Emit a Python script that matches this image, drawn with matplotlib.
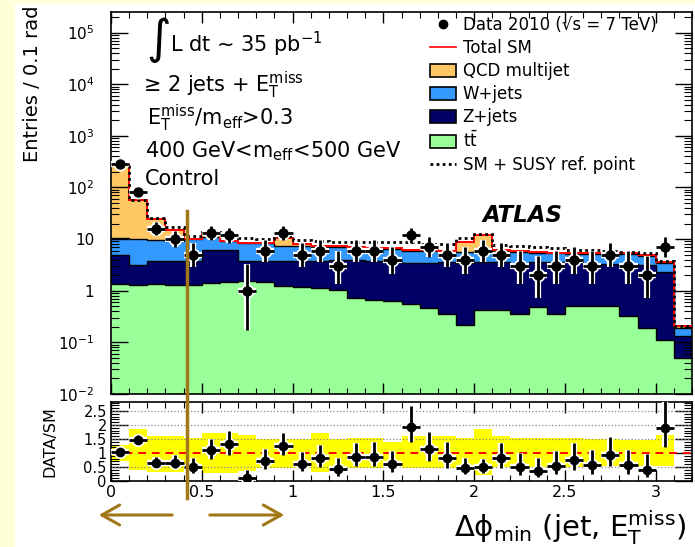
import numpy as np
import matplotlib
matplotlib.use('Agg')
import matplotlib.pyplot as plt
from matplotlib.patches import Rectangle, Patch, FancyArrowPatch
from matplotlib.lines import Line2D
from matplotlib.ticker import MultipleLocator, FixedLocator, LogLocator, NullFormatter, FormatStrFormatter

plt.rcParams['font.family'] = ['DejaVu Sans']
plt.rcParams['mathtext.fontset'] = 'dejavusans'

# bins of 0.1 rad in delta phi
edges = np.round(np.arange(0, 3.21, 0.1), 2)
centers = 0.5 * (edges[:-1] + edges[1:])

# stacked backgrounds (entries per bin)
ttbar = np.array([1.37, 1.30, 1.33, 1.30, 1.30, 1.42, 1.45, 1.54, 1.45, 1.25, 1.20, 1.13, 1.05, 0.73, 0.67, 0.62,
                  0.56, 0.46, 0.36, 0.22, 0.42, 0.42, 0.36, 0.48, 0.36, 0.51, 0.51, 0.51, 0.33, 0.19, 0.11, 0.05])
zjets = np.array([3.5, 1.8, 2.5, 2.4, 2.5, 4.8, 4.75, 2.25, 2.35, 2.45, 2.5, 2.65, 2.85, 3.15, 3.1, 3.0,
                  2.85, 3.05, 3.25, 3.2, 3.2, 3.2, 2.95, 3.1, 3.25, 3.1, 2.8, 2.8, 3.0, 2.9, 2.2, 0.08])
wjets = np.array([5.6, 6.9, 5.6, 5.3, 6.2, 4.8, 2.8, 4.5, 4.5, 3.8, 3.7, 3.4, 3.1, 3.0, 2.9, 2.8,
                  2.5, 2.4, 2.2, 2.3, 2.1, 2.3, 2.3, 1.9, 1.7, 1.6, 1.9, 1.9, 1.8, 1.6, 1.1, 0.06])
qcd = np.array([259.5, 46, 15.1, 6.2, 0.2, 0.8, 0.2, 0.3, 0.1, 2.8, 0.7, 0.2, 0.2, 0.1, 0.2, 0.2,
                0.3, 0.3, 0.2, 2.9, 6.4, 0.3, 0.4, 0.2, 0.15, 0.1, 0.1, 0.1, 0.2, 0.2, 0.26, 0.02])
sm_susy = np.array([270, 56, 26, 17, 11.6, 13.9, 12, 10.5, 10, 11.6, 9.4, 9.0, 8.6, 8.6, 8.6, 8.6,
                    8.6, 8.1, 8.1, 10.5, 12.6, 7.8, 7.5, 7.1, 6.6, 6.2, 6.2, 6.0, 5.7, 5.3, 3.8, 0.21])
data = np.array([280, 82, 16, 10, 5, 13, 12, 1, 6, 13, 5, 6, 3, 6, 6, 4,
                 12, 7, 5, 4, 6, 5, 3, 2, 3, 4, 3, 5, 3, 2, 7, 0])

# SM uncertainty band in the ratio panel
band_hi = np.array([1.28, 1.85, 1.6, 1.6, 1.55, 1.7, 1.7, 1.65, 1.5, 1.5, 1.5, 1.7, 1.5, 1.55, 1.55, 1.4,
                    1.6, 1.6, 1.6, 1.55, 1.85, 1.6, 1.55, 1.55, 1.55, 1.55, 1.5, 1.5, 1.45, 1.45, 1.65])
band_lo = np.array([0.72, 0.38, 0.33, 0.33, 0.42, 0.3, 0.3, 0.35, 0.45, 0.45, 0.45, 0.32, 0.45, 0.47, 0.47, 0.55,
                    0.45, 0.47, 0.47, 0.47, 0.2, 0.5, 0.5, 0.5, 0.5, 0.5, 0.55, 0.55, 0.55, 0.55, 0.55])

c_qcd = '#ffc864'
c_w = '#3399ff'
c_z = '#000066'
c_tt = '#99ff99'
brown = '#a07818'

W, H = 695, 547


def px(x, y):
    return x / W, 1 - y / H


fig = plt.figure(figsize=(W / 100, H / 100), dpi=100)
fig.patch.set_facecolor('#fefed8')
fig.add_artist(Rectangle(px(15, H), 1, 1 - 4 / H, transform=fig.transFigure, color='white', zorder=-10))

ax = fig.add_axes([111 / W, 1 - 394 / H, 581 / W, 382 / H])
ax.set_yscale('log')
ax.set_xlim(0, 3.2)
ax.set_ylim(0.01, 2.5e5)

s1 = ttbar
s2 = s1 + zjets
s3 = s2 + wjets
s4 = s3 + qcd
for vals, col in [(s4, c_qcd), (s3, c_w), (s2, c_z), (s1, c_tt)]:
    ax.stairs(vals, edges, baseline=1e-4, fill=True, color=col, zorder=1)
for vals in [s1, s2, s3]:
    ax.stairs(vals, edges, baseline=None, color='black', lw=1.0, zorder=2)
ax.stairs(s4, edges, baseline=None, color='red', lw=1.4, zorder=3)
ax.stairs(sm_susy, edges, baseline=None, color='black', lw=2, ls=(0, (1, 1.2)), zorder=4)

# poisson errors on data
m = data > 0
n = data[m].astype(float)
lo = n * (1 - 1 / (9 * n) - 1 / (3 * np.sqrt(n))) ** 3
hi = (n + 1) * (1 - 1 / (9 * (n + 1)) + 1 / (3 * np.sqrt(n + 1))) ** 3
ax.errorbar(centers[m], n, xerr=0.05, yerr=[n - lo, hi - n], fmt='o', color='white', ms=9,
            elinewidth=4.5, capsize=0, zorder=5)
ax.errorbar(centers[m], n, xerr=0.05, yerr=[n - lo, hi - n], fmt='o', color='black', ms=6.5,
            elinewidth=2, capsize=0, zorder=6)

ax.xaxis.set_major_locator(MultipleLocator(0.5))
ax.xaxis.set_minor_locator(MultipleLocator(0.1))
ax.yaxis.set_major_locator(FixedLocator(10.0 ** np.arange(-2, 6)))
ax.yaxis.set_minor_locator(LogLocator(base=10, subs=np.arange(2, 10), numticks=20))
ax.yaxis.set_minor_formatter(NullFormatter())
ax.set_yticklabels([r'$10^{-2}$', r'$10^{-1}$', '1', '10', r'$10^{2}$', r'$10^{3}$', r'$10^{4}$', r'$10^{5}$'])
ax.tick_params(which='both', direction='in', top=True, right=True, labelbottom=False)
ax.tick_params(axis='y', which='major', length=12, width=1, labelsize=11, pad=12)
ax.tick_params(axis='y', which='minor', length=6, width=0.8)
ax.tick_params(axis='x', which='major', length=8, width=1)
ax.tick_params(axis='x', which='minor', length=4, width=0.8)
for sp in ax.spines.values():
    sp.set_linewidth(1.2)

handles = [
    Line2D([], [], marker='o', color='black', ls='none', ms=6),
    Line2D([], [], color='red', lw=1.2),
    Patch(facecolor=c_qcd, edgecolor='black', lw=1.2),
    Patch(facecolor=c_w, edgecolor='black', lw=1.2),
    Patch(facecolor=c_z, edgecolor='black', lw=1.2),
    Patch(facecolor=c_tt, edgecolor='black', lw=1.2),
    Line2D([], [], color='black', lw=2, ls=(0, (1, 1.2))),
]
labels = [u'Data 2010 (\u221as = 7 TeV)', 'Total SM', 'QCD multijet', 'W+jets', 'Z+jets',
          r'$\mathregular{t\bar{t}}$', 'SM + SUSY ref. point']
ax.legend(handles, labels, loc='upper left', bbox_to_anchor=((430 - 111) / 581, (394 - 16) / 382),
          frameon=False, fontsize=12, borderpad=0, borderaxespad=0, handlelength=1.56,
          handletextpad=0.4, handleheight=0.85, labelspacing=0.3)

fig.text(*px(159, 40), u'\u222b', fontsize=34, ha='center', va='center')
fig.text(*px(170, 52), r'L dt ~ 35 pb$^{\mathregular{-1}}$', fontsize=15, va='baseline')
fig.text(*px(143, 92), u'\u2265 2 jets + ' + r'$\mathregular{E_{T}^{miss}}$', fontsize=15, va='baseline')
fig.text(*px(147, 125), r'$\mathregular{E_{T}^{miss}/m_{eff}}$>0.3', fontsize=15, va='baseline')
fig.text(*px(145, 157), r'400 GeV<$\mathregular{m_{eff}}$<500 GeV', fontsize=15, va='baseline')
fig.text(*px(145, 185), 'Control', fontsize=15, va='baseline')
fig.text(*px(482, 222), 'ATLAS', fontsize=16.5, weight='bold', style='italic', va='baseline')

fig.text(*px(33, 5), 'Entries / 0.1 rad', fontsize=14, rotation=90, ha='center', va='top')

# ratio panel
ax2 = fig.add_axes([111 / W, 1 - 481 / H, 581 / W, 79 / H])
ax2.set_xlim(0, 3.2)
ax2.set_ylim(0, 2.82)
nb = len(band_hi)
ax2.bar(centers[:nb], band_hi - band_lo, bottom=band_lo, width=0.1, color='#ffff00', lw=0, zorder=1)
for v in [0.5, 1.5, 2, 2.5]:
    ax2.axhline(v, color='#888888', ls=':', lw=0.9, zorder=2)
ax2.axhline(1, color='red', ls=(0, (4, 3)), lw=1.4, zorder=3)

tot = s4[m]
r = n / tot
ax2.errorbar(centers[m], r, xerr=0.05, yerr=[(n - lo) / tot, (hi - n) / tot], fmt='o', color='white',
             ms=8.5, elinewidth=4.5, capsize=0, zorder=5)
ax2.errorbar(centers[m], r, xerr=0.05, yerr=[(n - lo) / tot, (hi - n) / tot], fmt='o', color='black',
             ms=6, elinewidth=2, capsize=0, zorder=6)

ax2.xaxis.set_major_locator(MultipleLocator(0.5))
ax2.xaxis.set_minor_locator(MultipleLocator(0.1))
ax2.yaxis.set_major_locator(MultipleLocator(0.5))
ax2.yaxis.set_minor_locator(MultipleLocator(0.1))
ax2.xaxis.set_major_formatter(FormatStrFormatter('%g'))
ax2.yaxis.set_major_formatter(FormatStrFormatter('%g'))
ax2.tick_params(which='both', direction='in', top=True, right=True)
ax2.tick_params(axis='y', which='major', length=12, width=1, labelsize=10.5, pad=3)
ax2.tick_params(axis='y', which='minor', length=6, width=0.8)
ax2.tick_params(axis='x', which='major', length=8, width=1, labelsize=11.5, pad=3)
ax2.tick_params(axis='x', which='minor', length=4, width=0.8)
for sp in ax2.spines.values():
    sp.set_linewidth(1.2)

fig.text(*px(50, 442), 'DATA/SM', fontsize=11.5, rotation=90, ha='center', va='center')
fig.text(*px(686, 537), r'$\mathregular{\Delta\phi_{min}}$ (jet, $\mathregular{E_{T}^{miss}}$)',
         fontsize=21, ha='right', va='baseline')

# hand-drawn marker line and arrows
fig.add_artist(Line2D([187 / W, 187 / W], [1 - 211 / H, 1 - 498 / H], color=brown, lw=2.5,
                      transform=fig.transFigure, zorder=20))
for x0, x1 in [(175, 96), (207, 287)]:
    fig.add_artist(FancyArrowPatch(px(x0, 515), px(x1, 515), transform=fig.transFigure,
                                   arrowstyle='->,head_length=0.8,head_width=0.45', color=brown, lw=2.2,
                                   mutation_scale=16, zorder=20))

fig.savefig('out.png', dpi=100)
